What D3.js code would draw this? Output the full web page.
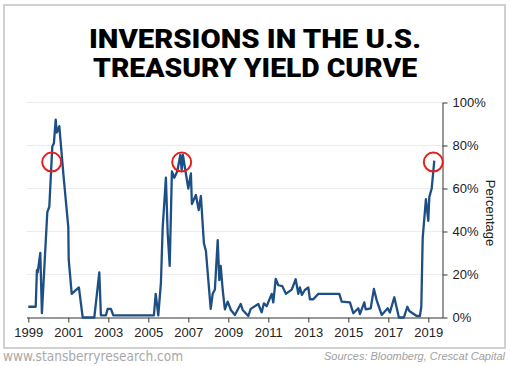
<!DOCTYPE html>
<html><head><meta charset="utf-8">
<script src="https://cdn.jsdelivr.net/npm/d3@7"></script>
<style>
html,body{margin:0;padding:0;background:#fff;}
svg{display:block;}
</style></head>
<body>
<svg id="chart" width="510" height="366"></svg>
<script>
const titleLines = ["INVERSIONS IN THE U.S.", "TREASURY YIELD CURVE"];
const years = [1999.0,1999.37,1999.43,1999.47,1999.6,1999.68,1999.95,2000.05,2000.2,2000.28,2000.37,2000.42,2000.55,2000.75,2001.0,2001.02,2001.17,2001.53,2001.72,2002.3,2002.55,2002.63,2002.88,2002.97,2003.13,2003.25,2005.28,2005.37,2005.5,2005.63,2005.72,2005.88,2005.97,2006.07,2006.18,2006.3,2006.45,2006.6,2006.67,2006.73,2006.85,2007.0,2007.13,2007.18,2007.38,2007.52,2007.63,2007.78,2007.88,2008.12,2008.22,2008.33,2008.47,2008.55,2008.62,2008.72,2008.83,2008.97,2009.13,2009.33,2009.62,2009.72,2010.0,2010.12,2010.5,2010.67,2010.78,2010.92,2011.17,2011.25,2011.37,2011.5,2011.7,2011.88,2012.17,2012.37,2012.5,2012.58,2012.68,2012.83,2013.0,2013.08,2013.25,2013.5,2014.55,2014.67,2015.08,2015.25,2015.5,2015.58,2015.8,2015.87,2016.12,2016.28,2016.42,2016.67,2016.97,2017.08,2017.3,2017.53,2017.78,2017.95,2018.05,2018.42,2018.58,2018.65,2018.72,2018.88,2019.0,2019.05,2019.17,2019.3];
const values = [5,5,22,21,30,2,49,51.5,79.5,81,92,86,89,67,42,27,11,14,0,0,21,1,1,4,4,1,1,11,1,16,42,65,39,24,68,65,68,75.6,68.6,75.6,68.6,60,67,52.8,57,50,56.5,34.5,31,4,11,13,36,17.4,24,12.8,3.8,7.4,3.5,1.2,6.3,3.5,0.7,4,6.3,2.4,6.6,5.3,11,7,18,15,14.6,11,13,17.8,11,14,10.5,12.8,14,8.5,8.5,11,11,7.4,7,2,4.3,1.6,7,3.8,4.3,13.3,8,1.2,4.3,2.3,9.4,0,0,5,3,0.7,0.7,5,37,55,45,56,60,73];
const circleYears = [2000.17, 2006.67, 2019.25];
const circleValues = [72.3, 72.3, 72.3];
const xTicks = [1999,2001,2003,2005,2007,2009,2011,2013,2015,2017,2019];
const yTicks = [0,20,40,60,80,100];
const yLabel = "Percentage";
const footLeft = "www.stansberryresearch.com";
const footRight = "Sources: Bloomberg, Crescat Capital";

const svg = d3.select("#chart");
svg.append("rect").attr("x",4).attr("y",5).attr("width",501).attr("height",343)
  .attr("fill","#fff").attr("stroke","#d0d0d0").attr("stroke-width",2);

// title
const titleBase = [48, 77];
const titleLen = [332, 324];
titleLines.forEach((t,i)=>{
  svg.append("text").attr("x",255).attr("y",titleBase[i]).attr("text-anchor","middle")
    .attr("font-family","Roboto, 'Liberation Sans', Arial, sans-serif").attr("font-weight",900)
    .attr("font-size",25).attr("fill","#000")
    .attr("textLength",titleLen[i]).attr("lengthAdjust","spacingAndGlyphs").text(t);
});

const x = d3.scaleLinear().domain([1998.91, 2019.71]).range([26.5, 442.5]);
const y = d3.scaleLinear().domain([0,100]).range([317.5, 102.5]);

// gridlines
svg.append("g").selectAll("line").data(yTicks.filter(d=>d>0)).join("line")
  .attr("x1",x.range()[0]).attr("x2",x.range()[1])
  .attr("y1",d=>y(d)).attr("y2",d=>y(d))
  .attr("stroke","#ececec").attr("stroke-width",1);

// x axis
const xAxis = svg.append("g").attr("transform",`translate(0,${y(0)})`)
  .call(d3.axisBottom(x).tickValues(xTicks).tickFormat(d3.format("d")).tickSize(5).tickSizeOuter(0));
xAxis.select(".domain").attr("stroke","#777").attr("stroke-width",1.5);
xAxis.selectAll(".tick line").attr("stroke","#555").attr("stroke-width",1.2);
xAxis.selectAll(".tick text").attr("font-family","'Liberation Sans', Arial, sans-serif")
  .attr("font-size",13).attr("fill","#222").attr("dy","0.9em");

// y axis right
const yAxis = svg.append("g").attr("transform",`translate(${x.range()[1]},0)`)
  .call(d3.axisRight(y).tickValues(yTicks).tickFormat(d=>d+"%").tickSize(5).tickSizeOuter(0).tickPadding(5));
yAxis.select(".domain").attr("stroke","#777").attr("stroke-width",1.5);
yAxis.selectAll(".tick line").attr("stroke","#555").attr("stroke-width",1.2);
yAxis.selectAll(".tick text").attr("font-family","'Liberation Sans', Arial, sans-serif")
  .attr("font-size",13).attr("fill","#222");

svg.append("text").attr("transform","translate(486,213) rotate(90)")
  .attr("text-anchor","middle").attr("font-family","'Liberation Sans', Arial, sans-serif")
  .attr("font-size",13).attr("fill","#222").text(yLabel);

// line
const data = years.map((d,i)=>({t:d, v:values[i]}));
svg.append("path").datum(data)
  .attr("d", d3.line().x(d=>x(d.t)).y(d=>y(d.v)))
  .attr("fill","none").attr("stroke","#1d4f85").attr("stroke-width",2.3)
  .attr("stroke-linejoin","round");

// circles
svg.append("g").selectAll("circle").data(circleYears.map((d,i)=>({t:d,v:circleValues[i]}))).join("circle")
  .attr("cx",d=>x(d.t)).attr("cy",d=>y(d.v)).attr("r",9.5)
  .attr("fill","none").attr("stroke","#e3211c").attr("stroke-width",2);

// footer
svg.append("text").attr("x",3).attr("y",361).attr("font-family","'DejaVu Sans', Verdana, sans-serif")
  .attr("font-size",14).attr("fill","#a8a8a8").attr("textLength",180).attr("lengthAdjust","spacingAndGlyphs").text(footLeft);
svg.append("text").attr("x",505).attr("y",360).attr("text-anchor","end")
  .attr("font-family","'Liberation Sans', Arial, sans-serif").attr("font-style","italic")
  .attr("font-size",11).attr("fill","#a0a0a0").text(footRight);
</script>
</body></html>
